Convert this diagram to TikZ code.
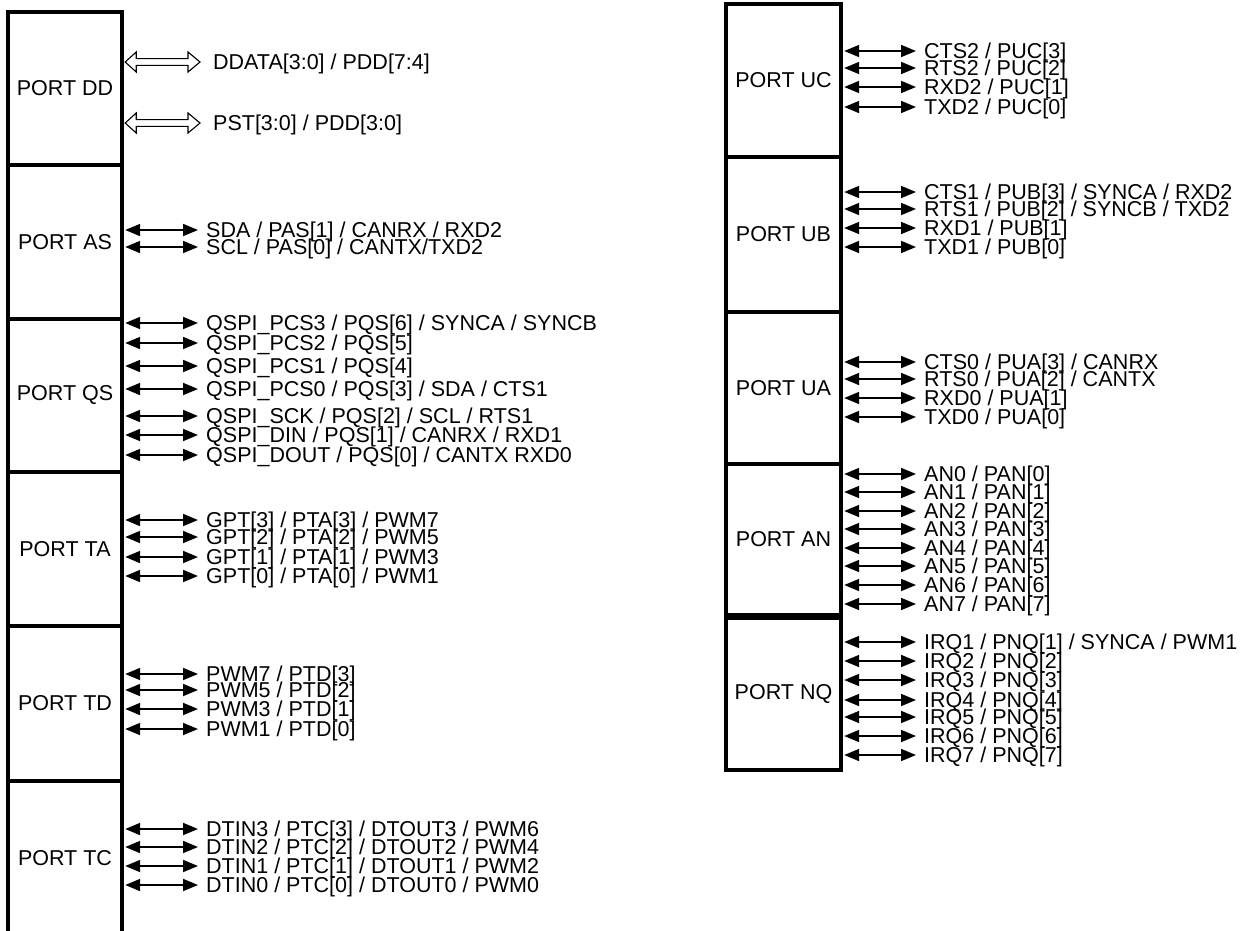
\documentclass[tikz,border=0pt]{standalone}
\usepackage{fontspec}
\setmainfont{Liberation Sans}
\usetikzlibrary{arrows.meta,calc}
\tikzset{
  portbox/.style={draw, line width=3.2pt, inner sep=0pt, font=\fontsize{21.5}{21.5}\selectfont},
  siglabel/.style={anchor=west, inner xsep=8pt, inner ysep=0pt, text height=15pt, text depth=0pt, font=\fontsize{21.5}{21.5}\selectfont},
  sigarrow/.style={line width=1.8pt, {Triangle[length=15pt,width=12pt]}-{Triangle[length=15pt,width=12pt]}},
  busarrow/.style={line width=1.1pt, fill=white, line join=miter}
}
\newcommand\psigL[4]{%
  \node[siglabel] (#2) at (198,#3) {#4};
  \draw[sigarrow] ($(#1.east |- #2.west)+(1.6,0)$) -- (#2.west);}
\newcommand\psigR[4]{%
  \node[siglabel] (#2) at (916,#3) {#4};
  \draw[sigarrow] ($(#1.east |- #2.west)+(1.6,0)$) -- (#2.west);}
\begin{document}
\begin{tikzpicture}[x=1pt,y=-1pt]
\fill[white] (0,0) rectangle (1242,930);
\useasboundingbox (0,0) rectangle (1242,930);
% left column boxes
\node[portbox, minimum width=114pt, minimum height=153pt] (dd) at (65,88.5) {PORT DD};
\node[portbox, minimum width=114pt, minimum height=154pt] (as) at (65,242) {PORT AS};
\node[portbox, minimum width=114pt, minimum height=153pt] (qs) at (65,395.5) {PORT QS};
\node[portbox, minimum width=114pt, minimum height=154pt] (ta) at (65,549) {PORT TA};
\node[portbox, minimum width=114pt, minimum height=155pt] (td) at (65,703.5) {PORT TD};
\node[portbox, minimum width=114pt, minimum height=154pt] (tc) at (65,858) {PORT TC};
% right column boxes
\node[portbox, minimum width=115pt, minimum height=153pt] (uc) at (783.5,80.5) {PORT UC};
\node[portbox, minimum width=115pt, minimum height=155pt] (ub) at (783.5,234.5) {PORT UB};
\node[portbox, minimum width=115pt, minimum height=152pt] (ua) at (783.5,388) {PORT UA};
\node[portbox, minimum width=115pt, minimum height=150.5pt] (an) at (783.5,539.25) {PORT AN};
\node[portbox, minimum width=115pt, minimum height=152pt] (nq) at (783.5,694) {PORT NQ};
% PORT DD buses
\node[siglabel, inner xsep=13pt] (dda) at (200,62) {DDATA[3:0] / PDD[7:4]};
\coordinate (ddaL) at ($(dd.east |- dda.west)+(1.6,0)$);
\draw[busarrow] (ddaL) -- ($(ddaL)+(11,10)$) -- ($(ddaL)+(11,3.4)$) -- ($(dda.west)+(-12,3.4)$) -- ($(dda.west)+(-12,10)$) -- (dda.west)
   -- ($(dda.west)+(-12,-10)$) -- ($(dda.west)+(-12,-3.4)$) -- ($(ddaL)+(11,-3.4)$) -- ($(ddaL)+(11,-10)$) -- cycle;
\node[siglabel, inner xsep=13pt] (pst) at (200,123) {PST[3:0] / PDD[3:0]};
\coordinate (pstL) at ($(dd.east |- pst.west)+(1.6,0)$);
\draw[busarrow] (pstL) -- ($(pstL)+(11,10)$) -- ($(pstL)+(11,3.4)$) -- ($(pst.west)+(-12,3.4)$) -- ($(pst.west)+(-12,10)$) -- (pst.west)
   -- ($(pst.west)+(-12,-10)$) -- ($(pst.west)+(-12,-3.4)$) -- ($(pstL)+(11,-3.4)$) -- ($(pstL)+(11,-10)$) -- cycle;
% PORT AS
\psigL{as}{as1}{230}{SDA / PAS[1] / CANRX / RXD2}
\psigL{as}{as0}{247}{SCL / PAS[0] / CANTX/TXD2}
% PORT QS
\psigL{qs}{qs6}{323}{QSPI\_PCS3 / PQS[6] / SYNCA / SYNCB}
\psigL{qs}{qs5}{343}{QSPI\_PCS2 / PQS[5]}
\psigL{qs}{qs4}{366}{QSPI\_PCS1 / PQS[4]}
\psigL{qs}{qs3}{389}{QSPI\_PCS0 / PQS[3] / SDA / CTS1}
\psigL{qs}{qs2}{416}{QSPI\_SCK / PQS[2] / SCL / RTS1}
\psigL{qs}{qs1}{435}{QSPI\_DIN / PQS[1] / CANRX / RXD1}
\psigL{qs}{qs0}{455}{QSPI\_DOUT / PQS[0] / CANTX RXD0}
% PORT TA
\psigL{ta}{ta3}{520}{GPT[3] / PTA[3] / PWM7}
\psigL{ta}{ta2}{537}{GPT[2] / PTA[2] / PWM5}
\psigL{ta}{ta1}{557}{GPT[1] / PTA[1] / PWM3}
\psigL{ta}{ta0}{576}{GPT[0] / PTA[0] / PWM1}
% PORT TD
\psigL{td}{td3}{674}{PWM7 / PTD[3]}
\psigL{td}{td2}{690}{PWM5 / PTD[2]}
\psigL{td}{td1}{709}{PWM3 / PTD[1]}
\psigL{td}{td0}{729}{PWM1 / PTD[0]}
% PORT TC
\psigL{tc}{tc3}{829}{DTIN3 / PTC[3] / DTOUT3 / PWM6}
\psigL{tc}{tc2}{847}{DTIN2 / PTC[2] / DTOUT2 / PWM4}
\psigL{tc}{tc1}{866}{DTIN1 / PTC[1] / DTOUT1 / PWM2}
\psigL{tc}{tc0}{885}{DTIN0 / PTC[0] / DTOUT0 / PWM0}
% PORT UC
\psigR{uc}{uc3}{51}{CTS2 / PUC[3]}
\psigR{uc}{uc2}{68}{RTS2 / PUC[2]}
\psigR{uc}{uc1}{87}{RXD2 / PUC[1]}
\psigR{uc}{uc0}{107}{TXD2 / PUC[0]}
% PORT UB
\psigR{ub}{ub3}{192}{CTS1 / PUB[3] / SYNCA / RXD2}
\psigR{ub}{ub2}{209}{RTS1 / PUB[2] / SYNCB / TXD2}
\psigR{ub}{ub1}{228}{RXD1 / PUB[1]}
\psigR{ub}{ub0}{247}{TXD1 / PUB[0]}
% PORT UA
\psigR{ua}{ua3}{362}{CTS0 / PUA[3] / CANRX}
\psigR{ua}{ua2}{379}{RTS0 / PUA[2] / CANTX}
\psigR{ua}{ua1}{398}{RXD0 / PUA[1]}
\psigR{ua}{ua0}{417}{TXD0 / PUA[0]}
% PORT AN
\psigR{an}{an0}{474}{AN0 / PAN[0]}
\psigR{an}{an1}{492}{AN1 / PAN[1]}
\psigR{an}{an2}{511}{AN2 / PAN[2]}
\psigR{an}{an3}{529}{AN3 / PAN[3]}
\psigR{an}{an4}{548}{AN4 / PAN[4]}
\psigR{an}{an5}{566}{AN5 / PAN[5]}
\psigR{an}{an6}{585}{AN6 / PAN[6]}
\psigR{an}{an7}{604}{AN7 / PAN[7]}
% PORT NQ
\psigR{nq}{nq1}{642}{IRQ1 / PNQ[1] / SYNCA / PWM1}
\psigR{nq}{nq2}{661}{IRQ2 / PNQ[2]}
\psigR{nq}{nq3}{680}{IRQ3 / PNQ[3]}
\psigR{nq}{nq4}{700}{IRQ4 / PNQ[4]}
\psigR{nq}{nq5}{717}{IRQ5 / PNQ[5]}
\psigR{nq}{nq6}{736}{IRQ6 / PNQ[6]}
\psigR{nq}{nq7}{755}{IRQ7 / PNQ[7]}
\end{tikzpicture}
\end{document}
